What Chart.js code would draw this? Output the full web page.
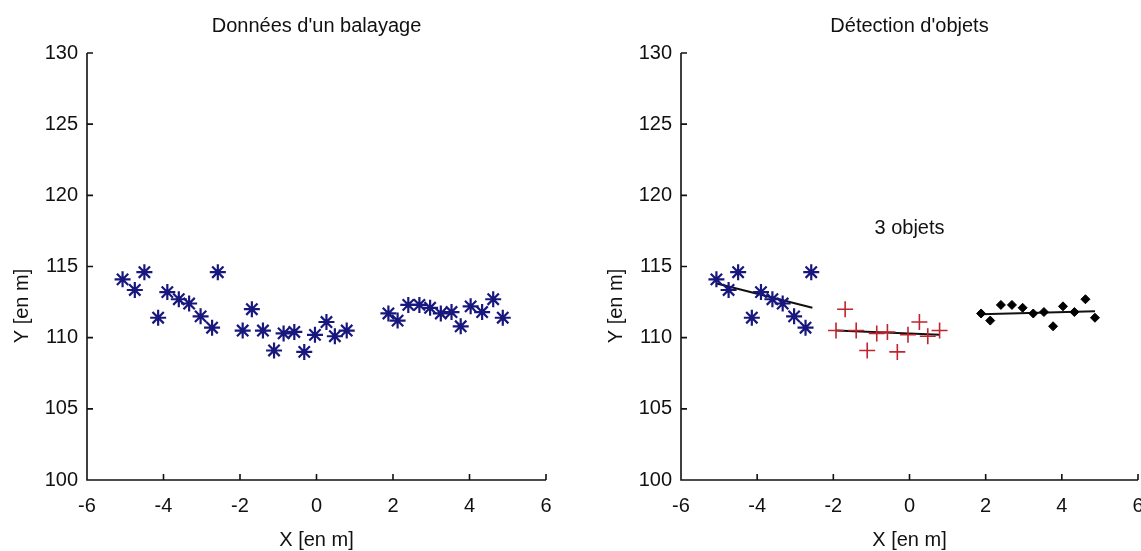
<!DOCTYPE html>
<html>
<head>
<meta charset="utf-8">
<script src="https://cdn.jsdelivr.net/npm/chart.js@4/dist/chart.umd.min.js"></script>
<style>
  html, body { margin: 0; padding: 0; background: #fff; overflow: hidden; }
  body { width: 1141px; height: 551px; position: relative; }
  canvas { position: absolute; top: 0; }
  #left { left: 0; }
  #right { left: 590px; }
</style>
</head>
<body>
<canvas id="left" width="580" height="551"></canvas>
<canvas id="right" width="600" height="551"></canvas>
<script>
// --- Data ---
const xTicks = [-6, -4, -2, 0, 2, 4, 6];
const yTicks = [100, 105, 110, 115, 120, 125, 130];

// object 1 (blue stars)
const blueX = [-5.07, -4.75, -4.50, -4.14, -3.90, -3.60, -3.33, -3.03, -2.73, -2.58];
const blueY = [114.1, 113.35, 114.6, 111.4, 113.2, 112.7, 112.4, 111.5, 110.7, 114.6];
// object 2 (red crosses)
const redX = [-1.93, -1.69, -1.40, -1.11, -0.86, -0.58, -0.32, -0.04, 0.26, 0.48, 0.79];
const redY = [110.5, 112.0, 110.5, 109.1, 110.3, 110.4, 109.0, 110.2, 111.1, 110.1, 110.5];
// object 3 (black diamonds)
const blackX = [1.88, 2.12, 2.40, 2.69, 2.97, 3.25, 3.53, 3.77, 4.03, 4.33, 4.62, 4.87];
const blackY = [111.7, 111.2, 112.3, 112.3, 112.1, 111.7, 111.8, 110.8, 112.2, 111.8, 112.7, 111.4];

// fitted segments shown on the right plot
const fitBlueX = [-5.06, -2.55];
const fitBlueY = [113.8, 112.1];
const fitRedX = [-1.93, 0.79];
const fitRedY = [110.5, 110.2];
const fitBlackX = [1.88, 4.87];
const fitBlackY = [111.65, 111.85];

const FONT = '"Liberation Sans", Arial, sans-serif';

function toPoints(xs, ys) {
    return xs.map((x, i) => ({ x: x, y: ys[i] }));
}

// --- MATLAB-like frame: axis lines, inward ticks, titles ---
const matlabFrame = {
    id: 'matlabFrame',
    afterDraw(chart, args, opts) {
        const ctx = chart.ctx;
        const a = chart.chartArea;
        const xs = chart.scales.x;
        const ys = chart.scales.y;
        const cx = (a.left + a.right) / 2;

        ctx.save();
        ctx.strokeStyle = '#111';
        ctx.lineWidth = 1.6;
        ctx.beginPath();
        ctx.moveTo(a.left, a.top);
        ctx.lineTo(a.left, a.bottom);
        ctx.lineTo(a.right, a.bottom);
        xTicks.forEach(v => {
            const px = xs.getPixelForValue(v);
            ctx.moveTo(px, a.bottom);
            ctx.lineTo(px, a.bottom - 6);
        });
        yTicks.forEach(v => {
            const py = ys.getPixelForValue(v);
            ctx.moveTo(a.left, py);
            ctx.lineTo(a.left + 6, py);
        });
        ctx.stroke();

        ctx.fillStyle = '#111';
        ctx.font = '20px ' + FONT;
        ctx.textAlign = 'center';
        ctx.textBaseline = 'alphabetic';
        ctx.fillText(opts.title, cx, 32);
        ctx.fillText('X [en m]', cx, 546);

        ctx.save();
        ctx.translate(a.left - 65, 306);
        ctx.rotate(-Math.PI / 2);
        ctx.textBaseline = 'middle';
        ctx.fillText('Y [en m]', 0, 0);
        ctx.restore();

        if (opts.note) {
            ctx.textBaseline = 'middle';
            ctx.fillText(opts.note, xs.getPixelForValue(0), ys.getPixelForValue(117.7));
        }
        ctx.restore();
    }
};

function makeOptions(yWidth, padRight, title, note) {
    return {
        responsive: false,
        animation: false,
        layout: { padding: { left: 0, top: 53, right: padRight, bottom: 0 } },
        plugins: {
            legend: { display: false },
            tooltip: { enabled: false },
            matlabFrame: { title: title, note: note }
        },
        scales: {
            x: {
                type: 'linear',
                min: -6,
                max: 6,
                afterBuildTicks: s => { s.ticks = xTicks.map(v => ({ value: v })); },
                afterFit: s => { s.height = 71; },
                grid: { display: false, drawTicks: false },
                border: { display: false },
                ticks: {
                    color: '#111',
                    padding: 14,
                    font: { family: FONT, size: 20 },
                    maxRotation: 0
                }
            },
            y: {
                type: 'linear',
                min: 100,
                max: 130,
                afterBuildTicks: s => { s.ticks = yTicks.map(v => ({ value: v })); },
                afterFit: s => { s.width = yWidth; },
                grid: { display: false, drawTicks: false },
                border: { display: false },
                ticks: {
                    color: '#111',
                    padding: 9,
                    font: { family: FONT, size: 20 }
                }
            }
        }
    };
}

const starStyle = {
    pointStyle: 'star',
    pointRadius: 8,
    pointBorderWidth: 2.2,
    pointBorderColor: '#17177e',
    pointBackgroundColor: '#17177e'
};

new Chart(document.getElementById('left'), {
    type: 'scatter',
    data: {
        datasets: [Object.assign({
            data: toPoints(blueX.concat(redX, blackX), blueY.concat(redY, blackY))
        }, starStyle)]
    },
    options: makeOptions(87, 34, "Données d'un balayage", null),
    plugins: [matlabFrame]
});

function fitLine(xs, ys) {
    return {
        data: toPoints(xs, ys),
        showLine: true,
        borderColor: '#111',
        borderWidth: 2,
        pointRadius: 0
    };
}

new Chart(document.getElementById('right'), {
    type: 'scatter',
    data: {
        datasets: [
            Object.assign({ data: toPoints(blueX, blueY) }, starStyle),
            {
                data: toPoints(redX, redY),
                pointStyle: 'cross',
                pointRadius: 8,
                pointBorderWidth: 1.6,
                pointBorderColor: '#c0242e'
            },
            {
                data: toPoints(blackX, blackY),
                pointStyle: 'rectRot',
                pointRadius: 4.5,
                pointBorderWidth: 1,
                pointBorderColor: '#000',
                pointBackgroundColor: '#000'
            },
            fitLine(fitBlueX, fitBlueY),
            fitLine(fitRedX, fitRedY),
            fitLine(fitBlackX, fitBlackY)
        ]
    },
    options: makeOptions(91, 52, "Détection d'objets", '3 objets'),
    plugins: [matlabFrame]
});
</script>
</body>
</html>
